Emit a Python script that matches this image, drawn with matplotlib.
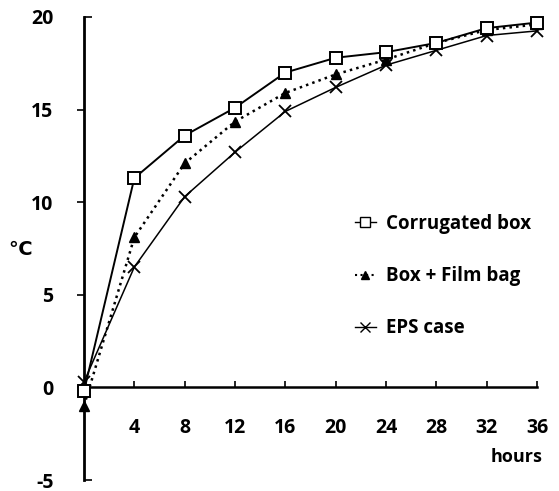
import matplotlib
matplotlib.use("Agg")
import matplotlib.pyplot as plt
from matplotlib.lines import Line2D

hours = [0, 4, 8, 12, 16, 20, 24, 28, 32, 36]
corrugated = [-0.2, 11.3, 13.6, 15.1, 17.0, 17.8, 18.1, 18.6, 19.4, 19.7]
film_bag = [-1.0, 8.1, 12.1, 14.35, 15.9, 16.9, 17.7, 18.6, 19.3, 19.6]
eps_case = [0.3, 6.5, 10.3, 12.7, 14.9, 16.2, 17.4, 18.2, 19.0, 19.25]

labels = ["Corrugated box", "Box + Film bag", "EPS case"]
x_ticks = [4, 8, 12, 16, 20, 24, 28, 32, 36]
y_major = [0, 5, 10, 15]
y_end = [-5, 20]

plt.rcParams['font.family'] = ['Open Sans', 'DejaVu Sans']
plt.rcParams['font.weight'] = 'bold'

fig = plt.figure(figsize=(5.59, 4.91), dpi=100)
ax = fig.add_axes([84 / 559, 1 - 480 / 491, (537 - 84) / 559, (480 - 17) / 491])

# three curves, markers left unclipped so the 0 h points show on the axis
ax.plot(hours, corrugated, '-', color='black', lw=1.4, marker='s', ms=8,
        mfc='white', mec='black', mew=1.4, clip_on=False, zorder=4)
ax.plot(hours, film_bag, ':', color='black', lw=1.8, marker='^', ms=7,
        mfc='black', mec='black', clip_on=False, zorder=3)
ax.plot(hours, eps_case, '-', color='black', lw=1.1, marker='x', ms=9,
        mew=1.3, clip_on=False, zorder=3)

ax.set_xlim(0, 36)
ax.set_ylim(-5, 20)

for s in ['top', 'right']:
    ax.spines[s].set_visible(False)
ax.spines['bottom'].set_position(('data', 0))
ax.spines['left'].set_linewidth(2.0)
ax.spines['bottom'].set_linewidth(1.8)

tick_font = {'fontsize': 14, 'fontweight': 'bold'}
ax.set_xticks(x_ticks)
ax.set_xticklabels([str(t) for t in x_ticks], **tick_font)
ax.tick_params(axis='x', direction='in', length=4, width=1.2, pad=22)

ax.set_yticks(y_major)
ax.set_yticklabels([str(t) for t in y_major], **tick_font)
ax.set_yticks(y_end, minor=True)
ax.set_yticklabels([str(t) for t in y_end], minor=True, **tick_font)
ax.tick_params(axis='y', which='major', direction='out', length=5, width=1.2,
               pad=17)
ax.tick_params(axis='y', which='minor', direction='in', length=6, width=1.2,
               pad=22)

fig.text(20 / 559, 1 - 250 / 491, "℃", fontsize=14, fontweight='bold',
         ha='center', va='center')
fig.text(517 / 559, 1 - 457 / 491, "hours", fontsize=13, fontweight='bold',
         ha='center', va='center')

handles = [
    Line2D([], [], color='black', lw=1.0, marker='s', ms=7, mfc='white', mec='black'),
    Line2D([], [], color='black', lw=1.5, ls=':', marker='^', ms=6, mfc='black'),
    Line2D([], [], color='black', lw=1.0, marker='x', ms=7),
]
leg = ax.legend(handles, labels, loc='upper left', frameon=False,
                bbox_to_anchor=(338 / 559, 1 - 197 / 491),
                bbox_transform=fig.transFigure, handlelength=1.1,
                handletextpad=0.55, labelspacing=1.72,
                prop={'size': 13.5, 'weight': 'bold'})

fig.savefig("out.png", dpi=100)
